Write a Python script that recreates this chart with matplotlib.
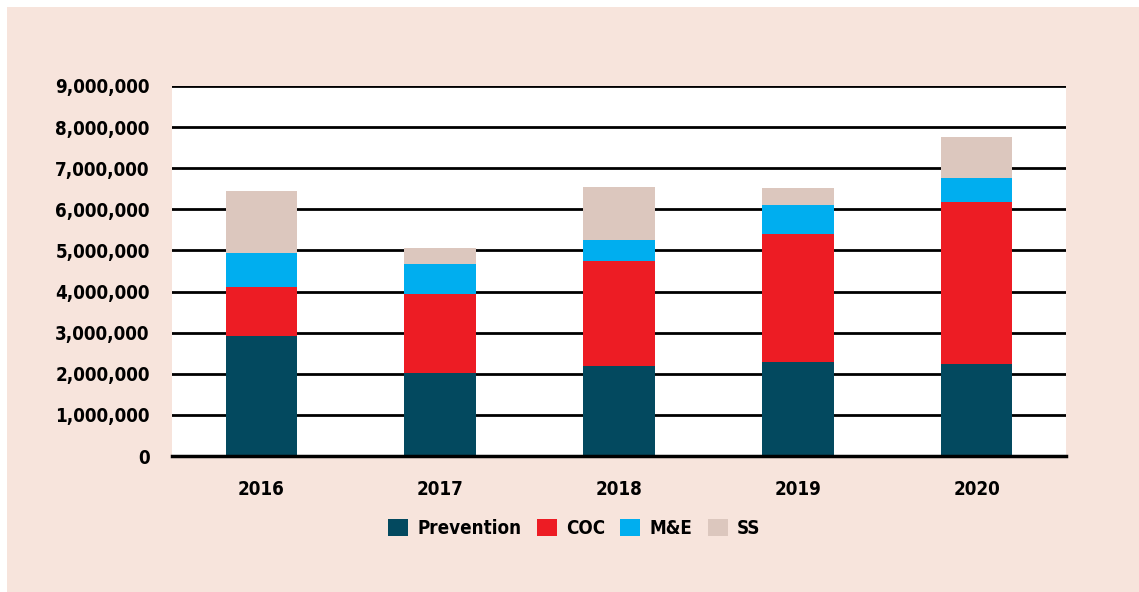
import matplotlib
matplotlib.use("Agg")
import matplotlib.pyplot as plt
from matplotlib import font_manager
from matplotlib.patches import Rectangle
from matplotlib.ticker import FuncFormatter

years = ["2016", "2017", "2018", "2019", "2020"]
prevention = [2910000, 2030000, 2180000, 2280000, 2230000]
coc = [1210000, 1900000, 2560000, 3110000, 3960000]
m_and_e = [820000, 730000, 510000, 720000, 580000]
ss = [1510000, 400000, 1300000, 420000, 1000000]

series = [("Prevention", prevention, "#03495f"),
          ("COC", coc, "#ed1c24"),
          ("M&E", m_and_e, "#00aeef"),
          ("SS", ss, "#dcc7be")]

BG = "#f7e4dc"

# look for a narrow bold face, fall back to plain DejaVu
cond = [f for f in font_manager.fontManager.ttflist
        if "Condensed" in f.fname and "Bold" in f.fname and "Oblique" not in f.fname]
if cond:
    FP = font_manager.FontProperties(fname=cond[0].fname, size=13.5)
else:
    FP = font_manager.FontProperties(family="DejaVu Sans", weight="bold", size=11.5)

fig = plt.figure(figsize=(11.39, 5.92), dpi=100, facecolor="white")
# pink panel with a thin white margin at top/left
fig.patches.append(Rectangle((7 / 1139, 0.0), 1.0, 1 - 7 / 592,
                             transform=fig.transFigure, facecolor=BG,
                             edgecolor="none", zorder=-10))

ax = fig.add_axes([172 / 1139, 1 - 456 / 592, 894 / 1139, 370 / 592])
ax.set_zorder(1)
ax.set_facecolor("white")

x = list(range(len(years)))
bottom = [0] * len(years)
for name, vals, color in series:
    ax.bar(x, vals, width=0.4, bottom=bottom, color=color, label=name,
           zorder=3, linewidth=0)
    bottom = [b + v for b, v in zip(bottom, vals)]

ax.set_xlim(-0.5, len(years) - 0.5)
ax.set_ylim(0, 9000000)
ax.set_yticks(range(0, 9000001, 1000000))
ax.yaxis.set_major_formatter(FuncFormatter(lambda v, p: f"{int(v):,}"))
ax.set_xticks(x)
ax.set_xticklabels(years)

ax.grid(axis="y", color="black", linewidth=2, zorder=1)
ax.set_axisbelow(True)
for s in ["top", "left", "right"]:
    ax.spines[s].set_visible(False)
ax.spines["bottom"].set_linewidth(2.5)
ax.spines["bottom"].set_zorder(4)
ax.tick_params(axis="y", length=0, pad=16)
ax.tick_params(axis="x", length=0, pad=17)

for lbl in ax.get_xticklabels() + ax.get_yticklabels():
    lbl.set_fontproperties(FP)

leg = ax.legend(loc="center", bbox_to_anchor=(0.45, -0.195), ncol=4,
                frameon=False, handlelength=1.07, handleheight=1.07,
                handletextpad=0.5, columnspacing=0.8, prop=FP)

fig.savefig("out.png", dpi=100, facecolor=fig.get_facecolor())
